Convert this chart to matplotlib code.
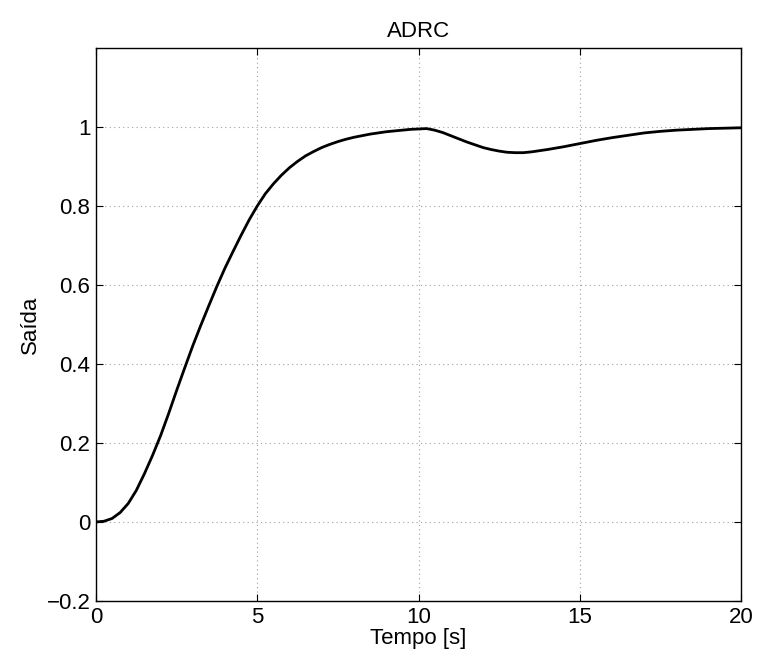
import matplotlib
matplotlib.use("Agg")
import matplotlib.pyplot as plt

# Step response of the ADRC loop (output vs time)
t_s = [0, 0.25, 0.5, 0.75, 1.0, 1.25, 1.5, 1.75, 2.0, 2.25, 2.5, 2.75, 3.0,
       3.25, 3.5, 3.75, 4.0, 4.25, 4.5, 4.75, 5.0, 5.25, 5.5, 5.75, 6.0,
       6.25, 6.5, 6.75, 7.0, 7.25, 7.5, 7.75, 8.0, 8.25, 8.5, 8.75, 9.0,
       9.25, 9.5, 9.75, 10.0, 10.25, 10.5, 10.75, 11.0, 11.25, 11.5, 11.75,
       12.0, 12.25, 12.5, 12.75, 13.0, 13.25, 13.5, 13.75, 14.0, 14.5, 15.0,
       15.5, 16.0, 16.5, 17.0, 17.5, 18.0, 18.5, 19.0, 19.5, 20.0]
saida = [0.0, 0.002, 0.009, 0.024, 0.047, 0.080, 0.122, 0.168, 0.218, 0.274,
         0.333, 0.390, 0.446, 0.498, 0.548, 0.597, 0.643, 0.685, 0.726, 0.765,
         0.800, 0.831, 0.856, 0.878, 0.897, 0.913, 0.927, 0.938, 0.948, 0.956,
         0.963, 0.969, 0.974, 0.978, 0.982, 0.985, 0.988, 0.990, 0.992, 0.994,
         0.995, 0.996, 0.992, 0.986, 0.978, 0.970, 0.962, 0.955, 0.948, 0.943,
         0.939, 0.936, 0.935, 0.935, 0.937, 0.940, 0.943, 0.950, 0.958, 0.966,
         0.973, 0.979, 0.985, 0.989, 0.992, 0.994, 0.996, 0.997, 0.998]

x_ticks = [0, 5, 10, 15, 20]
y_ticks = [-0.2, 0, 0.2, 0.4, 0.6, 0.8, 1]
y_tick_labels = ['\u22120.2', '0', '0.2', '0.4', '0.6', '0.8', '1']

plt.rcParams['font.family'] = ['Liberation Sans', 'DejaVu Sans']

fig = plt.figure(figsize=(7.58, 6.62), dpi=100)
ax = fig.add_axes([96 / 758, 1 - 601 / 662, (741 - 96) / 758, (601 - 48) / 662])

ax.plot(t_s, saida, color='black', linewidth=2.0, zorder=3,
        solid_joinstyle='round', solid_capstyle='round')

ax.set_xlim(0, 20)
ax.set_ylim(-0.2, 1.2)
ax.set_xticks(x_ticks)
ax.set_yticks(y_ticks)
ax.set_xticklabels([str(v) for v in x_ticks])
ax.set_yticklabels(y_tick_labels)
ax.grid(True, linestyle=(0, (1, 3)), color='#a0a0a0', linewidth=0.8)
ax.tick_params(direction='in', top=True, right=True, length=5, width=0.8,
               labelsize=16, pad=4)
for sp in ax.spines.values():
    sp.set_linewidth(1.0)

ax.set_title('ADRC', fontsize=16, pad=8)
ax.set_xlabel('Tempo [s]', fontsize=16, labelpad=0)
ax.set_ylabel('Saída', fontsize=16, labelpad=4)

fig.savefig('out.png', dpi=100)
